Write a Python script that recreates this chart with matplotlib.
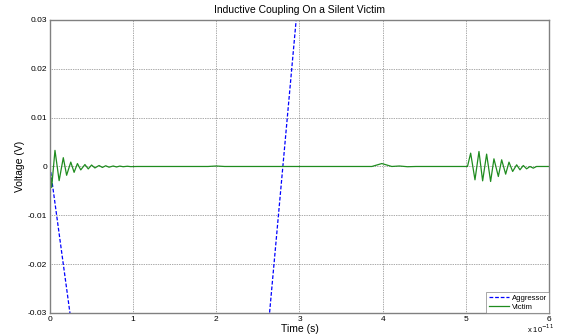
import numpy as np
import matplotlib.pyplot as plt

# time in units of 1e-11 s, voltage in V
aggressor_t = [0.0, 0.5, 2.5, 3.2, 6.0]
aggressor_v = [0.0, -0.0625, -0.05625, 0.075, 0.6]

victim_t = [0.0, 0.02, 0.06, 0.11, 0.16, 0.20, 0.25, 0.29, 0.33, 0.37, 0.42,
            0.46, 0.50, 0.54, 0.59, 0.63, 0.67, 0.71, 0.76, 0.80, 0.84, 0.88,
            0.93, 0.97, 1.05, 1.9, 2.0, 2.1, 3.87, 3.99, 4.11, 4.2, 4.3, 4.4,
            5.02, 5.058, 5.110, 5.158, 5.202, 5.250, 5.298, 5.338, 5.391,
            5.431, 5.479, 5.519, 5.563, 5.611, 5.651, 5.691, 5.731, 5.771,
            5.811, 5.85, 6.0]
victim_mv = [0.0, -4.3, 3.3, -2.9, 1.8, -1.8, 0.9, -1.2, 0.6, -0.7, 0.4,
             -0.5, 0.3, -0.3, 0.2, -0.2, 0.15, -0.15, 0.1, -0.1, 0.08, -0.05,
             0.05, -0.03, 0.0, 0.0, 0.1, 0.0, 0.0, 0.6, 0.0, 0.1, -0.05, 0.0,
             0.0, 2.73, -2.73, 3.07, -2.94, 2.53, -3.07, 1.57, -2.05,
             1.37, -1.57, 0.89, -1.02, 0.34, -0.68, 0.2, -0.48, 0.0,
             -0.34, 0.0, 0.0]

xticks = [0, 1, 2, 3, 4, 5, 6]
yticks = [-0.03, -0.02, -0.01, 0, 0.01, 0.02, 0.03]
ytick_labels = ["-0.03", "-0.02", "-0.01", "0", "0.01", "0.02", "0.03"]

plt.rcParams["font.family"] = ["Liberation Sans", "DejaVu Sans"]

fig = plt.figure(figsize=(5.61, 3.34), dpi=100)
ax = fig.add_axes([0.0891, 0.0629, 0.8895, 0.8773])

victim_v = np.array(victim_mv) / 1000.0
ax.plot(aggressor_t, aggressor_v, color="#0000ff", linestyle=(0, (3, 1.5)),
        linewidth=0.9, label="Aggressor")
ax.plot(victim_t, victim_v, color="#1f8c1f", linewidth=0.9, label="Victim")

ax.set_xlim(0, 6)
ax.set_ylim(-0.03, 0.03)
ax.set_xticks(xticks)
ax.set_yticks(yticks)
ax.set_yticklabels(ytick_labels)
ax.tick_params(labelsize=6, length=0)
ax.tick_params(axis="x", pad=2)
ax.tick_params(axis="y", pad=2)
ax.grid(True, color="#555555", linestyle=(0, (1, 1.5)), linewidth=0.5)
for s in ax.spines.values():
    s.set_color("#808080")
    s.set_linewidth(1.0)

ax.set_title("Inductive Coupling On a Silent Victim", fontsize=7.5, pad=5)
ax.set_xlabel("Time (s)", fontsize=7.5, labelpad=1)
ax.set_ylabel("Voltage (V)", fontsize=7.5, labelpad=2)
ax.text(0.984, -0.032, r"x 10$^{-11}$", transform=ax.transAxes,
        fontsize=5.5, ha="center", va="top")

leg = ax.legend(loc="lower right", fontsize=5.5, frameon=True, fancybox=False,
                borderaxespad=0.0, handlelength=2.6, borderpad=0.3,
                labelspacing=0.2, handletextpad=0.4)
leg.get_frame().set_edgecolor("#808080")
leg.get_frame().set_linewidth(0.6)

fig.savefig("out.png", dpi=100)
